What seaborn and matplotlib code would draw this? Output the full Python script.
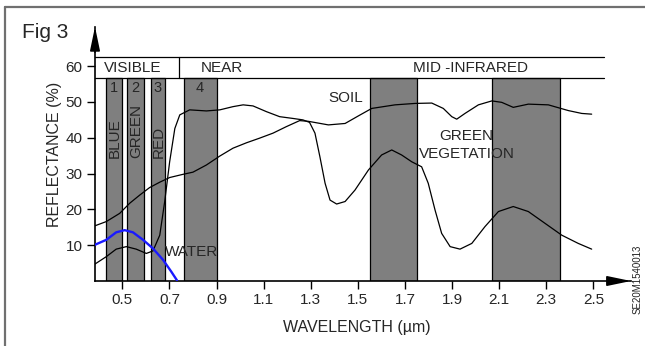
import numpy as np
import pandas as pd
import matplotlib
matplotlib.use("Agg")
import matplotlib.pyplot as plt
from matplotlib.lines import Line2D
import seaborn as sns

# --- spectral reflectance curves (wavelength in µm, reflectance in %) ---
soil_wl = [0.383, 0.432, 0.489, 0.531, 0.574, 0.616, 0.659, 0.701, 0.758, 0.800,
           0.857, 0.914, 0.970, 1.027, 1.083, 1.140, 1.196, 1.253, 1.290, 1.375,
           1.446, 1.502, 1.559, 1.658, 1.743, 1.814, 1.863, 1.899, 1.920, 1.955,
           2.012, 2.069, 2.111, 2.160, 2.224, 2.309, 2.394, 2.451, 2.493]
soil_r = [15.4, 16.6, 18.9, 21.7, 24.0, 26.1, 27.6, 28.9, 29.8, 30.4,
          32.4, 34.9, 37.1, 38.6, 39.9, 41.3, 43.1, 44.8, 44.6, 43.6,
          44.0, 46.1, 48.2, 49.2, 49.6, 49.7, 48.2, 45.9, 45.2, 46.8,
          49.2, 50.3, 49.9, 48.5, 49.4, 49.2, 47.6, 46.8, 46.6]

veg_wl = [0.383, 0.432, 0.474, 0.517, 0.559, 0.602, 0.630, 0.659, 0.680, 0.701,
          0.723, 0.744, 0.786, 0.857, 0.914, 0.970, 1.013, 1.055, 1.112, 1.168,
          1.225, 1.267, 1.295, 1.318, 1.339, 1.361, 1.382, 1.410, 1.446, 1.488,
          1.545, 1.601, 1.644, 1.686, 1.729, 1.771, 1.799, 1.828, 1.856, 1.892,
          1.934, 1.984, 2.040, 2.097, 2.160, 2.224, 2.295, 2.366, 2.436, 2.493]
veg_r = [4.7, 6.8, 8.9, 9.6, 8.9, 7.7, 8.4, 12.8, 22.2, 33.3,
         42.6, 46.4, 47.8, 47.5, 47.8, 48.7, 49.2, 48.9, 47.3, 45.9,
         45.4, 45.0, 44.3, 41.3, 34.7, 27.3, 22.6, 21.5, 22.2, 25.4,
         31.0, 35.2, 36.6, 35.2, 33.3, 31.9, 27.3, 19.8, 13.3, 9.6,
         8.9, 10.5, 15.2, 19.4, 20.8, 19.4, 16.1, 12.8, 10.5, 8.9]

water_wl = [0.383, 0.432, 0.474, 0.510, 0.545, 0.588, 0.630, 0.673, 0.708, 0.732]
water_r = [10.1, 11.5, 13.6, 14.2, 13.6, 11.5, 9.1, 5.9, 2.6, 0.2]

# --- sensor bands ---
band_lo = [0.43, 0.52, 0.62, 0.76, 1.55, 2.07]
band_hi = [0.50, 0.59, 0.68, 0.90, 1.75, 2.36]
band_nums = ["1", "2", "3", "4"]
band_names = ["BLUE", "GREEN", "RED"]

x_ticks = [0.5, 0.7, 0.9, 1.1, 1.3, 1.5, 1.7, 1.9, 2.1, 2.3, 2.5]
y_ticks = [10, 20, 30, 40, 50, 60]

X0, X1 = 0.384, 2.66
Y0, Y1 = 0.0, 71.0
HDR_LO, HDR_HI = 56.7, 62.6
HDR_END = 2.547
VIS_END = 0.74
FS = 11

sns.set_theme(style="white")
plt.rcParams["font.family"] = ["Liberation Sans", "DejaVu Sans"]

W, H = 645, 346
fig = plt.figure(figsize=(W / 100, H / 100), dpi=100)
ax = fig.add_axes([95 / W, 65 / H, 536 / W, 254.2 / H])
ax.set_xlim(X0, X1)
ax.set_ylim(Y0, Y1)

# bands as bars
widths = [h - l for l, h in zip(band_lo, band_hi)]
ax.bar(band_lo, [HDR_LO] * len(band_lo), width=widths, align="edge",
       color="#7f7f7f", edgecolor="black", linewidth=0.9, zorder=1)

# header strip
ax.plot([X0, HDR_END], [HDR_HI, HDR_HI], color="black", lw=0.9, clip_on=False, zorder=3)
ax.plot([X0, HDR_END], [HDR_LO, HDR_LO], color="black", lw=0.9, clip_on=False, zorder=3)
ax.plot([VIS_END, VIS_END], [HDR_LO, HDR_HI], color="black", lw=0.9, zorder=3)
ax.text(0.545, 59.6, "VISIBLE", ha="center", va="center", fontsize=FS)
ax.text(0.922, 59.6, "NEAR", ha="center", va="center", fontsize=FS)
ax.text(1.98, 59.6, "MID -INFRARED", ha="center", va="center", fontsize=FS)

# band numbers and names
for lo, hi, n in zip(band_lo, band_hi, band_nums):
    ax.text((lo + hi) / 2, 54.0, n, ha="center", va="center", fontsize=FS - 0.5, zorder=4)
for lo, hi, n in zip(band_lo, band_hi, band_names):
    ax.text((lo + hi) / 2 + 0.004, 34.3, n, ha="center", va="bottom", rotation=90,
            fontsize=FS, zorder=4)

# curves
soil = pd.DataFrame({"wl": soil_wl, "r": soil_r})
veg = pd.DataFrame({"wl": veg_wl, "r": veg_r})
water = pd.DataFrame({"wl": water_wl, "r": water_r})
sns.lineplot(data=soil, x="wl", y="r", ax=ax, color="black", lw=0.9,
             sort=False, estimator=None, zorder=5)
sns.lineplot(data=veg, x="wl", y="r", ax=ax, color="black", lw=0.9,
             sort=False, estimator=None, zorder=5)
sns.lineplot(data=water, x="wl", y="r", ax=ax, color="#1a1aff", lw=1.7,
             sort=False, estimator=None, zorder=6)

ax.text(1.448, 51.0, "SOIL", ha="center", va="center", fontsize=FS)
ax.text(1.96, 40.5, "GREEN", ha="center", va="center", fontsize=FS)
ax.text(1.962, 35.6, "VEGETATION", ha="center", va="center", fontsize=FS)
ax.text(0.680, 8.0, "WATER", ha="left", va="center", fontsize=FS, zorder=7)

# axes styling
for s in ["top", "right"]:
    ax.spines[s].set_visible(False)
for s in ["left", "bottom"]:
    ax.spines[s].set_color("black")
    ax.spines[s].set_linewidth(1.2)
ax.set_xticks(x_ticks)
ax.set_xticklabels([f"{t:.1f}" for t in x_ticks])
ax.set_yticks(y_ticks)
ax.tick_params(axis="both", direction="out", length=6, width=1, color="black",
               labelsize=FS, pad=3, left=True, bottom=True)
ax.set_xlabel("WAVELENGTH (\u00b5m)", fontsize=FS + 0.5)
ax.set_ylabel("REFLECTANCE (%)", fontsize=FS + 0.5)
ax.xaxis.set_label_coords(0.488, -0.155)
ax.yaxis.set_label_coords(-0.062, 0.5)

# axis arrows
ax.annotate("", xy=(1, 0), xytext=(0.96, 0), xycoords="axes fraction",
            arrowprops=dict(arrowstyle="-|>,head_length=1.2,head_width=0.25",
                            color="black", lw=1.2, shrinkA=0, shrinkB=0))
ax.annotate("", xy=(0, 1), xytext=(0, 0.9), xycoords="axes fraction",
            arrowprops=dict(arrowstyle="-|>,head_length=1.2,head_width=0.25",
                            color="black", lw=1.2, shrinkA=0, shrinkB=0))

# figure title and frame
fig.text(22 / W, 1 - 33 / H, "Fig 3", fontsize=15, ha="left", va="center")
fig.add_artist(Line2D([5 / W, 1], [1 - 7 / H, 1 - 7 / H], color="#707070", lw=1.6))
fig.add_artist(Line2D([5 / W, 5 / W], [0, 1 - 7 / H], color="#707070", lw=1.6))
fig.text(638 / W, 1 - 245 / H, "SE20M1540013", rotation=90, fontsize=7,
         ha="center", va="top", color="#222222")

fig.savefig("out.png", dpi=100)
